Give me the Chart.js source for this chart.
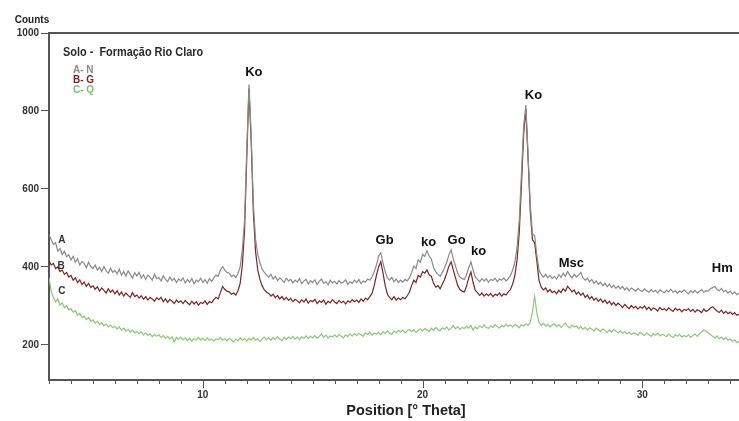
<!DOCTYPE html>
<html><head><meta charset="utf-8">
<script src="https://cdn.jsdelivr.net/npm/chart.js@4/dist/chart.umd.min.js"></script>
<style>html,body{margin:0;padding:0;background:#fff;}#wrap{width:739px;height:421px;}</style>
</head><body><div id="wrap"><canvas id="c" width="739" height="421"></canvas></div>
<script>
// 2θ sampling grid (degrees)
const thetaStart = 3.0;
const thetaStep = 0.1;

// Series A - N (grey)
const seriesA = [
482,470,458,462,441,447,432,440,426,431,
418,427,412,421,405,414,409,398,412,401,
396,405,392,399,388,401,390,384,397,386,
391,382,394,379,388,376,390,381,372,385,
377,386,371,380,368,379,374,366,381,370,
373,364,377,368,362,374,365,371,360,369,
364,372,359,368,361,370,357,366,362,371,
360,367,358,370,363,372,379,376,392,401,
392,386,384,375,379,373,384,400,445,520,
700,868,740,560,470,432,410,394,386,379,
374,381,369,376,365,372,367,360,371,364,
368,359,366,361,370,357,364,368,356,365,
360,367,355,363,369,358,362,354,366,359,
363,356,365,358,361,367,355,362,358,366,
360,368,357,364,361,369,366,374,388,405,
428,436,410,388,372,366,373,362,369,360,
366,361,368,364,372,385,402,396,418,412,
432,427,442,428,420,398,388,381,376,386,
398,412,431,444,420,402,384,374,370,368,
380,398,413,392,374,368,362,370,364,369,
361,368,365,371,362,369,366,372,364,370,
378,392,412,450,520,640,760,815,690,560,
485,480,430,392,380,374,381,372,378,370,
376,369,380,373,384,376,388,379,372,381,
374,379,386,372,366,371,362,368,358,364,
355,361,352,358,349,356,347,353,345,351,
344,350,341,347,339,346,342,338,345,340,
337,344,339,335,342,336,340,333,341,337,
334,340,336,343,335,339,332,338,335,341,
336,331,339,334,340,333,337,342,335,339,
338,344,347,350,342,339,345,336,340,333,
338,331,336,329,333
];

// Series B - G (dark red)
const seriesB = [
416,405,409,396,400,388,392,381,386,374,
378,366,372,360,367,355,361,350,358,347,
352,343,349,338,346,340,333,344,335,341,
331,339,328,336,325,333,327,322,334,324,
328,320,326,317,324,315,322,318,312,321,
316,322,311,318,309,317,312,306,315,309,
313,306,314,308,303,312,305,311,302,309,
306,313,304,311,308,316,322,318,334,350,
342,338,336,330,333,328,339,358,405,495,
680,858,725,540,440,392,368,352,341,335,
332,325,330,321,327,318,324,316,322,314,
319,311,317,313,308,316,310,318,307,314,
311,317,306,313,309,315,304,312,308,316,
310,306,314,308,312,305,313,309,316,311,
315,309,318,312,320,316,324,332,352,378,
400,413,384,352,330,322,316,324,315,320,
316,322,318,326,335,352,366,360,378,374,
388,384,392,380,376,358,348,352,344,356,
368,384,402,413,392,372,352,342,338,336,
350,372,387,360,340,334,327,333,325,331,
326,332,324,330,327,333,325,331,328,336,
342,356,378,418,488,610,740,805,680,545,
470,462,415,365,348,341,346,336,342,334,
338,331,340,334,344,338,350,344,336,341,
330,336,327,333,322,328,318,324,315,320,
312,318,309,315,306,312,303,309,301,307,
302,296,304,298,293,301,295,299,292,298,
294,300,291,297,289,295,292,287,296,290,
293,288,295,290,286,294,289,292,285,291,
288,293,286,291,284,290,287,283,292,286,
289,295,298,292,287,283,289,281,286,280,
284,278,283,276,279
];

// Series C - Q (green)
const seriesC = [
372,338,322,310,318,302,308,296,300,290,
293,284,288,276,281,270,274,265,270,261,
264,256,261,252,257,249,254,246,251,244,
248,241,246,238,243,236,240,233,238,231,
235,229,234,226,231,224,229,221,227,222,
226,219,224,217,222,215,221,207,219,214,
220,213,218,211,217,210,216,212,219,213,
217,211,218,212,215,209,216,213,219,212,
216,210,217,213,208,215,211,218,212,216,
210,217,213,219,212,216,209,215,220,213,
218,212,219,214,221,215,211,219,214,220,
216,222,215,220,213,221,217,223,216,222,
218,224,217,222,228,219,225,218,223,220,
226,220,227,222,218,226,221,228,223,229,
224,230,226,222,231,227,233,225,230,228,
232,226,234,229,236,230,227,235,231,237,
233,238,231,236,240,234,239,232,237,241,
236,242,238,234,243,237,245,239,236,244,
240,246,238,243,249,241,247,240,245,242,
248,243,250,238,246,241,249,244,251,245,
242,249,245,252,247,243,250,246,253,248,
251,246,253,249,244,252,248,254,250,258,
285,325,282,258,250,255,248,253,246,251,
254,247,252,245,250,256,248,243,251,246,
249,242,247,240,245,238,244,241,236,243,
239,234,241,236,232,238,233,240,235,231,
236,230,234,228,233,227,231,229,225,232,
228,224,231,226,222,229,225,230,223,227,
225,221,228,223,219,226,222,227,220,224,
221,226,219,224,228,222,229,233,238,235,
231,226,222,218,223,216,220,214,218,212,
215,209,213,206,210
];

const seriesNames = ['A- N', 'B- G', 'C- Q'];
const curveLetters = ['A', 'B', 'C'];
const curveLetterTheta = [3.59, 3.55, 3.59];
const curveLetterCounts = [469, 403, 338];

const yTicks = [200, 400, 600, 800, 1000];
const xMajorTicks = [10, 20, 30];
const xMinorTicks = [3,4,5,6,7,8,9,11,12,13,14,15,16,17,18,19,21,22,23,24,25,26,27,28,29,31,32,33,34];

const peakLabels = ['Ko', 'Gb', 'ko', 'Go', 'ko', 'Ko', 'Msc', 'Hm'];
const peakTheta  = [12.32, 18.27, 20.27, 21.55, 22.55, 25.05, 26.77, 33.64];
const peakCounts = [900, 467, 462, 469, 441, 841, 410, 395];

const chartTitle = 'Solo -  Formação Rio Claro';
const yAxisTitle = 'Counts';
const xAxisTitle = 'Position [° Theta]';

const FONT = 'Arial, "Liberation Sans", Helvetica, sans-serif';
const colors = ['#8a8a8a', '#7a2626', '#8cc878'];
const legendColors = ['#8a8a8a', '#7a1f1f', '#7cbf6a'];

function toPoints(arr) {
  return arr.map((v, i) => ({ x: +(thetaStart + i * thetaStep).toFixed(1), y: v }));
}

const annotPlugin = {
  id: 'annot',
  afterDraw(chart) {
    const ctx = chart.ctx;
    const xs = chart.scales.x, ys = chart.scales.y;
    const ca = chart.chartArea;
    ctx.save();
    // top frame line
    ctx.strokeStyle = '#555';
    ctx.lineWidth = 2;
    ctx.beginPath();
    ctx.moveTo(ca.left, ca.top);
    ctx.lineTo(ca.right, ca.top);
    ctx.stroke();
    // x tick marks
    ctx.lineWidth = 1;
    ctx.strokeStyle = '#555';
    const yb = ca.bottom;
    xMinorTicks.forEach(v => {
      const px = Math.round(xs.getPixelForValue(v)) + 0.5;
      ctx.beginPath(); ctx.moveTo(px, yb); ctx.lineTo(px, yb + 4); ctx.stroke();
    });
    xMajorTicks.forEach(v => {
      const px = Math.round(xs.getPixelForValue(v)) + 0.5;
      ctx.beginPath(); ctx.moveTo(px, yb); ctx.lineTo(px, yb + 8); ctx.stroke();
    });
    // Counts label
    ctx.fillStyle = '#222';
    ctx.font = 'bold 10px ' + FONT;
    ctx.textAlign = 'center';
    ctx.textBaseline = 'middle';
    ctx.fillText(yAxisTitle, ca.left - 17, ca.top - 13);
    // x axis title
    ctx.font = 'bold 14.5px ' + FONT;
    ctx.fillText(xAxisTitle, (ca.left + ca.right) / 2 + 12, ca.bottom + 31);
    // chart title (condensed)
    ctx.save();
    ctx.translate(ca.left + 14, ca.top + 19);
    ctx.scale(0.84, 1);
    ctx.textAlign = 'left';
    ctx.font = 'bold 13px ' + FONT;
    ctx.fillStyle = '#2a2a2a';
    ctx.fillText(chartTitle, 0, 0);
    ctx.restore();
    // legend text
    ctx.textAlign = 'left';
    ctx.font = 'bold 10px ' + FONT;
    seriesNames.forEach((n, i) => {
      ctx.fillStyle = legendColors[i];
      ctx.fillText(n, ca.left + 24, ca.top + 37 + i * 10);
    });
    // curve letters
    ctx.fillStyle = '#333';
    ctx.textAlign = 'center';
    ctx.font = 'bold 10px ' + FONT;
    curveLetters.forEach((l, i) => {
      ctx.fillText(l, xs.getPixelForValue(curveLetterTheta[i]), ys.getPixelForValue(curveLetterCounts[i]));
    });
    // peak labels
    ctx.font = 'bold 13px ' + FONT;
    ctx.fillStyle = '#111';
    peakLabels.forEach((l, i) => {
      ctx.fillText(l, xs.getPixelForValue(peakTheta[i]), ys.getPixelForValue(peakCounts[i]));
    });
    ctx.restore();
  }
};

new Chart(document.getElementById('c'), {
  type: 'line',
  data: {
    datasets: [
      { label: seriesNames[0], data: toPoints(seriesA), borderColor: colors[0] },
      { label: seriesNames[1], data: toPoints(seriesB), borderColor: colors[1] },
      { label: seriesNames[2], data: toPoints(seriesC), borderColor: colors[2] }
    ]
  },
  options: {
    responsive: false,
    animation: false,
    layout: { padding: { top: 33, right: 0, left: 0, bottom: 0 } },
    plugins: { legend: { display: false }, tooltip: { enabled: false } },
    elements: { point: { radius: 0 }, line: { borderWidth: 1.2, tension: 0 } },
    scales: {
      x: {
        type: 'linear', min: 3, max: 34.4,
        grid: { display: false, drawTicks: false },
        border: { display: true, color: '#555', width: 2 },
        afterBuildTicks: s => { s.ticks = xMajorTicks.map(v => ({ value: v })); },
        ticks: { font: { family: FONT, weight: 'bold', size: 10 }, color: '#333', padding: 9, maxRotation: 0, autoSkip: false, callback: v => String(v) },
        title: { display: false },
        afterFit: s => { s.height = 41; }
      },
      y: {
        min: 110, max: 1000,
        grid: { display: true, drawOnChartArea: false, drawTicks: true, tickLength: 8, color: '#555' },
        border: { display: true, color: '#555', width: 2 },
        afterBuildTicks: s => { s.ticks = yTicks.map(v => ({ value: v })); },
        ticks: { font: { family: FONT, weight: 'bold', size: 10 }, color: '#333', padding: 2, callback: v => String(v) },
        afterFit: s => { s.width = 49; }
      }
    }
  },
  plugins: [annotPlugin]
});
</script>
</body></html>
